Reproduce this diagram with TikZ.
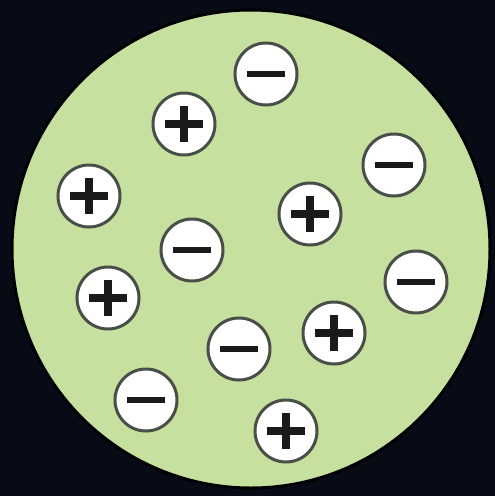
\documentclass[tikz,border=0pt]{standalone}
\definecolor{bg}{HTML}{070B16}
\definecolor{leaf}{HTML}{C6E0A0}
\definecolor{rim}{HTML}{4A4E48}
\definecolor{sign}{HTML}{1A1A1A}
\tikzset{
  charge/.style={circle, draw=rim, line width=3pt, fill=white, minimum size=62pt, inner sep=0pt},
  bar/.style={draw=sign, line width=7.5pt},
  thinbar/.style={draw=sign, line width=6.5pt},
}
\newcommand{\pluscharge}[2]{%
  \node[charge] (#1) at #2 {};
  \draw[bar] ([xshift=-19pt]#1.center) -- ([xshift=19pt]#1.center);
  \draw[bar] ([yshift=-18pt]#1.center) -- ([yshift=18pt]#1.center);
}
\newcommand{\minuscharge}[2]{%
  \node[charge] (#1) at #2 {};
  \draw[thinbar] ([xshift=-19pt]#1.center) -- ([xshift=19pt]#1.center);
}
\begin{document}
\begin{tikzpicture}[x=1pt,y=-1pt]
\fill[bg] (0,0) rectangle (495,496);
\useasboundingbox (0,0) rectangle (495,496);
\node[circle, fill=leaf, draw=black, line width=3pt, minimum size=478pt, inner sep=0pt] (atom) at (251,249) {};
\minuscharge{m1}{(266,74)}
\pluscharge{p1}{(184,124)}
\minuscharge{m2}{(394,165)}
\pluscharge{p2}{(89,196)}
\pluscharge{p3}{(310,214)}
\minuscharge{m3}{(192,250)}
\minuscharge{m4}{(416,282)}
\pluscharge{p4}{(108,298)}
\pluscharge{p5}{(334,333)}
\minuscharge{m5}{(239,349)}
\minuscharge{m6}{(146,400)}
\pluscharge{p6}{(286,431)}
\end{tikzpicture}
\end{document}
